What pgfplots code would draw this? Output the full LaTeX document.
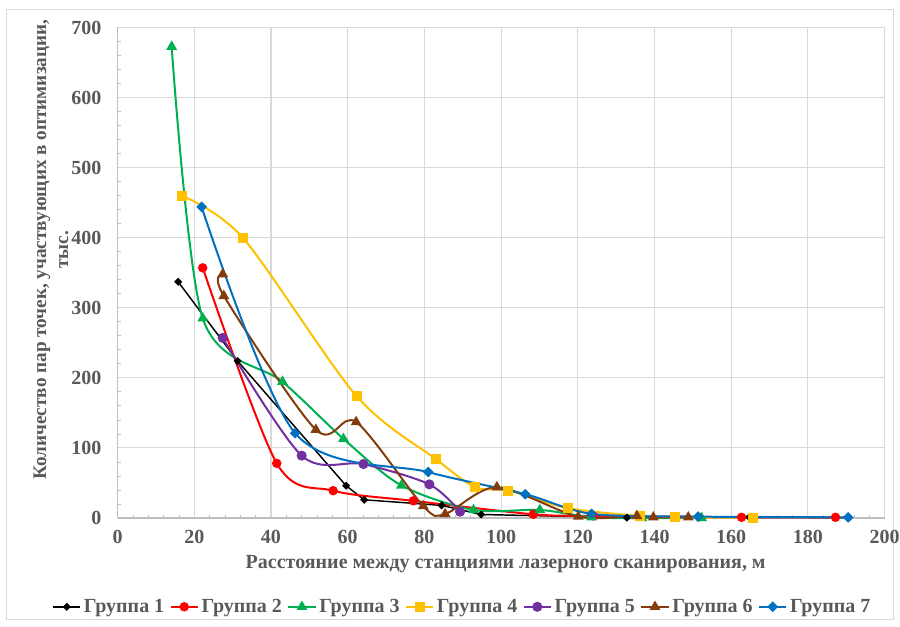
\documentclass[border=0pt]{standalone}
\usepackage{pgfplots}
\pgfplotsset{compat=1.18}
\usepackage{fontspec}
\setmainfont{Liberation Serif}
\definecolor{txt}{HTML}{595959}
\definecolor{gridc}{HTML}{D9D9D9}
\definecolor{axc}{HTML}{BFBFBF}
\definecolor{cgreen}{HTML}{00B050}
\definecolor{cyellow}{HTML}{FFC000}
\definecolor{cpurple}{HTML}{7030A0}
\definecolor{cbrown}{HTML}{843C0C}
\definecolor{cblue}{HTML}{0070C0}
\definecolor{cred}{HTML}{FF0000}
\begin{document}
\begin{tikzpicture}
\path[use as bounding box] (-88.2pt,-81pt) rectangle (586.8pt,388.5pt);
\draw[gridc, line width=0.6pt] (-83.5pt,-76pt) rectangle (581.5pt,381.5pt);
\begin{axis}[
  at={(0,0)}, anchor=south west,
  width=575.25pt, height=367.9pt, scale only axis,
  xmin=0, xmax=200, ymin=0, ymax=700,
  xtick distance=20, ytick distance=100,
  minor x tick num=4, minor y tick num=4,
  axis lines*=left,
  axis line style={axc, line width=0.8pt},
  grid=major, major grid style={gridc, line width=0.8pt},
  tick align=inside,
  major tick length=0pt, minor tick length=2.5pt,
  tick style={axc, line width=0.6pt},
  clip=false,
  /pgf/number format/assume math mode=true,
  tick label style={font=\bfseries\fontsize{15}{17}\selectfont, text=txt},
  yticklabel style={inner sep=0pt, xshift=-12pt},
  xticklabel style={inner sep=0pt, yshift=-9pt},
  xlabel={Расстояние между станциями лазерного сканирования, м},
  xlabel style={font=\bfseries\fontsize{15}{17}\selectfont, text=txt, at={(axis description cs:0.506,-0.095)}, anchor=center},
  ylabel={Количество пар точек, участвующих в оптимизации,\\ тыс.},
  ylabel style={font=\bfseries\fontsize{14.4}{16.5}\selectfont, text=txt, align=center, at={(axis description cs:-0.087,0.547)}, anchor=center},
  legend columns=7,
  legend style={at={(axis description cs:0.45,-0.181)}, anchor=center, draw=none, fill=none,
     font=\bfseries\fontsize{15}{17}\selectfont, text=txt,
     /tikz/every even column/.append style={column sep=2pt},
     /tikz/every odd column/.append style={column sep=0pt}},
  legend image code/.code={\draw[mark repeat=2,mark phase=2,#1] plot coordinates {(0cm,0cm)(0.36cm,0cm)(0.72cm,0cm)};},
]
\addplot[black, line width=1.1pt, sharp plot, mark=square*, mark size=1.6pt, mark options={rotate=45}]
 coordinates {(15.8,337)(31.3,224)(59.6,46)(64.3,26)(84.5,18)(94.8,5)(132.8,0.5)(152,1)(164.7,1)(190.7,0.5)};
\addlegendentry{Группа 1}
\addplot[cred, line width=1.5pt, smooth, mark=*, mark size=2.75pt]
 coordinates {(22.2,357)(41.5,78)(56.2,39)(77.1,24.5)(108.4,5.3)(124,3)(162.7,1)(187.2,1)};
\addlegendentry{Группа 2}
\addplot[cgreen, line width=1.5pt, smooth, mark=triangle*, mark size=3.2pt]
 coordinates {(14.1,672.6)(22.2,285)(43,194.5)(58.9,113)(74,46.5)(92.8,11.5)(110.1,11.5)(123.6,1)(136.7,0)(152.3,0)};
\addlegendentry{Группа 3}
\addplot[cyellow, line width=1.5pt, smooth, mark=square*, mark size=3pt]
 coordinates {(16.9,459.6)(32.8,399)(62.3,174)(83,84)(93.2,44)(101.9,39)(117.5,14)(136.2,3)(145.3,1)(165.8,0.5)};
\addlegendentry{Группа 4}
\addplot[cpurple, line width=1.5pt, smooth, mark=*, mark size=3pt]
 coordinates {(27.4,257)(48,89)(64.1,77)(81.3,48)(89.3,9)};
\addlegendentry{Группа 5}
\addplot[cbrown, line width=1.5pt, smooth, mark=triangle*, mark size=3.2pt]
 coordinates {(27.4,348)(27.7,317)(51.7,126)(62.2,137)(79.7,17)(85.4,5.7)(98.9,44)(120.1,2)(135.4,3)(139.7,1)(148.8,1)};
\addlegendentry{Группа 6}
\addplot[cblue, line width=1.5pt, smooth, mark=square*, mark size=2.1pt, mark options={rotate=45}]
 coordinates {(21.9,444)(46.3,121)(81,65.5)(106.3,34)(123.6,6)(151.4,2)(190.5,1)};
\addlegendentry{Группа 7}
\end{axis}
\end{tikzpicture}
\end{document}
